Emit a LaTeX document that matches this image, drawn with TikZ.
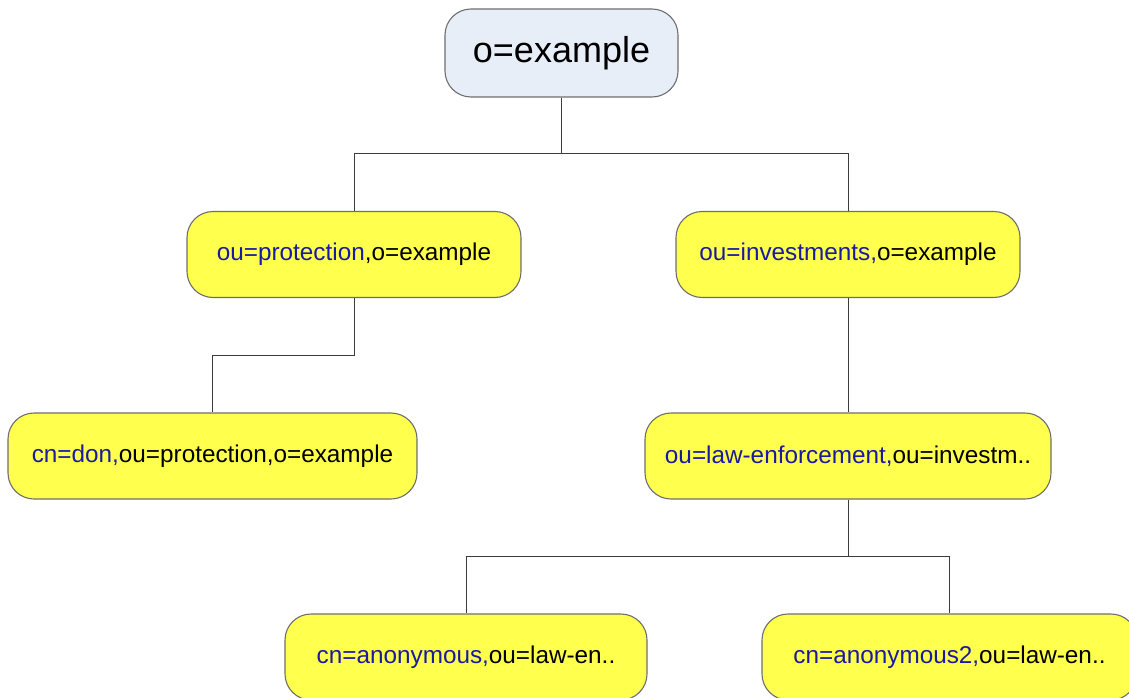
\documentclass[tikz,border=0pt]{standalone}
\usepackage{fontspec}
\setmainfont{Liberation Sans}
\definecolor{ldapblue}{HTML}{1A1AA0}
\definecolor{entryfill}{HTML}{FFFF4D}
\definecolor{rootfill}{HTML}{E8EEF8}
\definecolor{edgegray}{HTML}{6E6E6E}
\definecolor{wiregray}{HTML}{3C3C3C}
\newcommand{\rdn}[1]{\textcolor{ldapblue}{#1}}
\begin{document}
\begin{tikzpicture}[x=1pt,y=-1pt,
  entry/.style={draw=edgegray, line width=1.1pt, fill=entryfill,
    rounded corners=26pt, inner sep=0pt, minimum height=86pt,
    font=\fontsize{24.3}{29}\selectfont},
  rootentry/.style={entry, fill=rootfill, minimum height=88pt,
    font=\fontsize{36}{43}\selectfont},
  wire/.style={draw=wiregray, line width=1pt}]
\useasboundingbox (0,0) rectangle (1129,698);
\clip (0,0) rectangle (1129,698);

% directory entries
\node[rootentry, minimum width=233pt] (root) at (561.5,53) {o=example};
\node[entry, minimum width=334pt] (prot) at (354,254.5) {\rdn{ou=protection},o=example};
\node[entry, minimum width=344pt] (inv) at (848,254.5) {\rdn{ou=investments,}o=example};
\node[entry, minimum width=409pt] (don) at (212.5,456) {\rdn{cn=don,}ou=protection,o=example};
\node[entry, minimum width=406pt] (law) at (848,456) {\rdn{ou=law-enforcement,}ou=investm..};
\node[entry, minimum width=362pt] (anon) at (466,657) {\rdn{cn=anonymous,}ou=law-en..};
\node[entry, minimum width=375pt] (anon2) at (949.5,657) {\rdn{cn=anonymous2,}ou=law-en..};

% tree connectors
\draw[wire] (root.south) -- ++(0,56) -| (prot.north);
\draw[wire] (root.south) -- ++(0,56) -| (inv.north);
\draw[wire] (prot.south) -- ++(0,57) -| (don.north);
\draw[wire] (inv.south) -- (law.north);
\draw[wire] (law.south) -- ++(0,57) -| (anon.north);
\draw[wire] (law.south) -- ++(0,57) -| (anon2.north);
\end{tikzpicture}
\end{document}
